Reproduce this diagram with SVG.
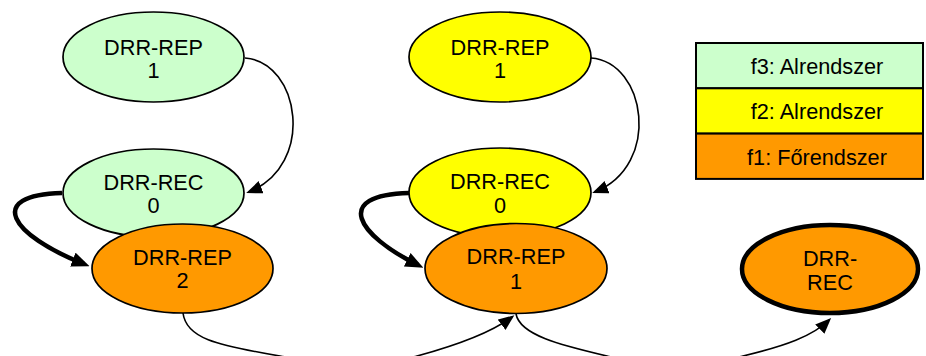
<svg xmlns="http://www.w3.org/2000/svg" width="926" height="356" viewBox="0 0 926 356">
  <defs>
    <style>
      text { font-family: "Liberation Sans", Arial, sans-serif; font-size: 21.7px; fill: #000; text-anchor: middle; }
      .node { stroke: #000; stroke-width: 1.7; }
      .final { stroke: #000; stroke-width: 4.5; }
      .f3 { fill: #CCFFCC; }
      .f2 { fill: #FFFF00; }
      .f1 { fill: #FF9900; }
      .edge { fill: none; stroke: #000; stroke-width: 1.6; }
      .edge-bold { fill: none; stroke: #000; stroke-width: 4.5; }
      .legend rect { stroke: #000; stroke-width: 2; }
    </style>
    <marker id="arrow" markerUnits="userSpaceOnUse" markerWidth="16" markerHeight="14" refX="13" refY="6.5" orient="auto">
      <path d="M0,0 L16,6.5 L0,13 z" fill="#000"/>
    </marker>
    <marker id="arrow-bold" markerUnits="userSpaceOnUse" markerWidth="18" markerHeight="16" refX="12" refY="7.5" orient="auto">
      <path d="M0,0 L18,7.5 L0,15 z" fill="#000"/>
    </marker>
  </defs>

  <!-- left column -->
  <g id="l-rep1">
    <ellipse class="node f3" cx="153.5" cy="57" rx="90.5" ry="45"/>
    <text x="153.5" y="55">DRR-REP</text>
    <text x="153.5" y="78">1</text>
  </g>
  <g id="l-rec0">
    <ellipse class="node f3" cx="153.5" cy="193" rx="90.5" ry="44"/>
    <text x="153.5" y="189.5">DRR-REC</text>
    <text x="153.5" y="213">0</text>
  </g>
  <g id="l-rep2">
    <ellipse class="node f1" cx="182.5" cy="268.5" rx="90.5" ry="44.5"/>
    <text x="182.5" y="264.5">DRR-REP</text>
    <text x="182.5" y="288">2</text>
  </g>

  <!-- middle column -->
  <g id="m-rep1">
    <ellipse class="node f2" cx="500" cy="57" rx="91" ry="45"/>
    <text x="500" y="55">DRR-REP</text>
    <text x="500" y="78">1</text>
  </g>
  <g id="m-rec0">
    <ellipse class="node f2" cx="500" cy="192.5" rx="91" ry="44.5"/>
    <text x="500" y="189">DRR-REC</text>
    <text x="500" y="213">0</text>
  </g>
  <g id="m-rep1b">
    <ellipse class="node f1" cx="516" cy="268.5" rx="91" ry="45"/>
    <text x="516" y="264">DRR-REP</text>
    <text x="516" y="288.5">1</text>
  </g>

  <!-- final state -->
  <g id="r-rec">
    <ellipse class="final f1" cx="830" cy="269" rx="88" ry="44"/>
    <text x="830" y="266">DRR-</text>
    <text x="830" y="289.5">REC</text>
  </g>

  <!-- legend -->
  <g id="legend" class="legend">
    <rect class="f3" x="696" y="43" width="227" height="45.3"/>
    <rect class="f2" x="696" y="88.3" width="227" height="45.3"/>
    <rect class="f1" x="696" y="133.6" width="227" height="45.3"/>
    <text x="817" y="74">f3: Alrendszer</text>
    <text x="817" y="119">f2: Alrendszer</text>
    <text x="817" y="164.5">f1: Főrendszer</text>
  </g>

  <!-- connectors -->
  <g id="connectors">
    <path class="edge" d="M245,58 C300,62 316,165 249,192" marker-end="url(#arrow)"/>
    <path class="edge" d="M591,58 C646,62 662,165 595,192" marker-end="url(#arrow)"/>
    <path class="edge-bold" d="M62,193 C-15,195 10,235 84,264" marker-end="url(#arrow-bold)"/>
    <path class="edge-bold" d="M409,193 C332,195 357,235 418,265" marker-end="url(#arrow-bold)"/>
    <path class="edge" d="M183,313 C186,338 215,345 280,356 C330,365 380,366 417,356 C450,347 488,335 512,317" marker-end="url(#arrow)"/>
    <path class="edge" d="M516,314 C520,335 560,345 607,356 C650,366 700,366 743,356 C785,346 813,336 829,320" marker-end="url(#arrow)"/>
  </g>
</svg>
